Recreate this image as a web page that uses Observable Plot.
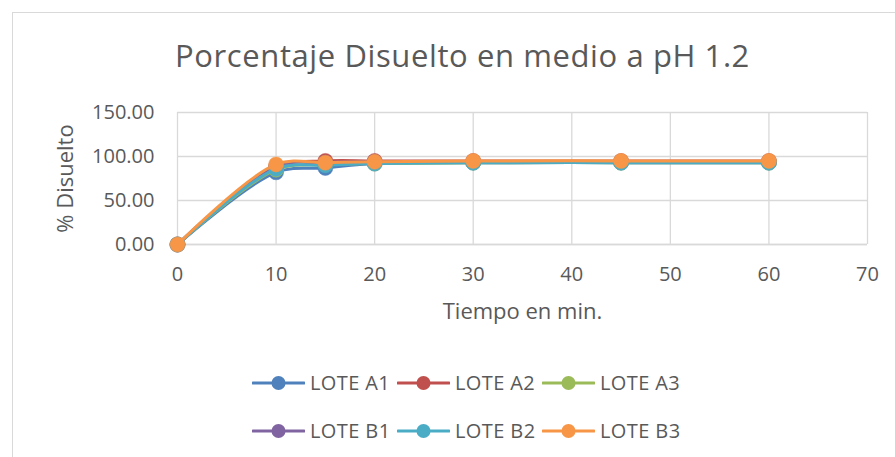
<!DOCTYPE html>
<html>
<head>
<meta charset="utf-8">
<script src="https://cdn.jsdelivr.net/npm/d3@7"></script>
<script src="https://cdn.jsdelivr.net/npm/@observablehq/plot@0.6"></script>
<style>
  html, body { margin: 0; padding: 0; background: #fff; }
  #wrap { position: relative; width: 895px; height: 457px; overflow: hidden; font-family: "Open Sans", sans-serif; }
  #frame { position: absolute; left: 12px; top: 12px; width: 1000px; height: 600px; border: 1px solid #d9d9d9; box-sizing: border-box; }
  #title { position: absolute; left: 0; width: 925px; top: 40px; line-height: 31px; text-align: center; font-size: 31px; letter-spacing: 0.6px; color: #595959; white-space: nowrap; }
  #chart { position: absolute; left: 0; top: 0; }
  .legrow { position: absolute; left: 252px; display: flex; align-items: center; font-size: 20px; letter-spacing: 0.4px; color: #595959; }
  .legitem { display: flex; align-items: center; width: 145px; }
  .legitem svg { margin-right: 5px; }
</style>
</head>
<body>
<div id="wrap">
  <div id="frame"></div>
  <div id="title">Porcentaje Disuelto en medio a pH 1.2</div>
  <div id="chart"></div>
  <div class="legrow" id="leg1" style="top:369px"></div>
  <div class="legrow" id="leg2" style="top:417px"></div>
</div>
<script>
const tiempos = [0, 10, 15, 20, 30, 45, 60];
const series = ["LOTE A1", "LOTE A2", "LOTE A3", "LOTE B1", "LOTE B2", "LOTE B3"];
const colores = ["#4F81BD", "#C0504D", "#9BBB59", "#8064A2", "#4BACC6", "#F79646"];
const loteA1 = [0, 82, 87, 92, 93, 93, 93];
const loteA2 = [0, 88, 95, 95, 95, 95, 95];
const loteA3 = [0, 85, 91, 92, 93, 93, 93];
const loteB1 = [0, 89, 93, 94, 94, 94, 94];
const loteB2 = [0, 86, 90, 92, 93, 93, 93];
const loteB3 = [0, 91, 93, 94, 95, 95, 95];
const yTicks = [0, 50, 100, 150];
const xTicks = [0, 10, 20, 30, 40, 50, 60, 70];

const valores = [loteA1, loteA2, loteA3, loteB1, loteB2, loteB3];
const data = [];
series.forEach((s, i) => tiempos.forEach((t, j) => data.push({serie: s, t, v: valores[i][j]})));

const marks = [
  Plot.gridY(yTicks, {stroke: "#d9d9d9", strokeOpacity: 1, strokeWidth: 1.3}),
  Plot.gridX(xTicks, {stroke: "#d9d9d9", strokeOpacity: 1, strokeWidth: 1.3}),
  Plot.ruleY([0], {stroke: "#d9d9d9", strokeWidth: 1.3}),
  Plot.axisY(yTicks, {tickFormat: d3.format(".2f"), tickSize: 0, tickPadding: 23, fontSize: 20, fill: "#595959", label: null}),
  Plot.axisX(xTicks, {tickSize: 0, tickPadding: 22, fontSize: 20, fill: "#595959", label: null}),
  Plot.text(["% Disuelto"], {frameAnchor: "left", textAnchor: "middle", dx: -112, rotate: -90, fontSize: 22, fill: "#595959", style: {letterSpacing: "1px"}}),
  Plot.text(["Tiempo en min."], {frameAnchor: "bottom", dy: 74, fontSize: 22, fill: "#595959"})
];
series.forEach((s, i) => {
  const d = data.filter(r => r.serie === s);
  marks.push(Plot.line(d, {x: "t", y: "v", stroke: colores[i], strokeWidth: 3, curve: "catmull-rom"}));
  marks.push(Plot.dot(d, {x: "t", y: "v", r: 7.5, fill: colores[i], stroke: colores[i], strokeWidth: 0.5}));
});

const chart = Plot.plot({
  width: 895,
  height: 340,
  marginLeft: 177,
  marginRight: 28,
  marginTop: 112,
  marginBottom: 96,
  style: {fontFamily: "Open Sans, sans-serif", background: "transparent", overflow: "visible"},
  x: {domain: [0, 70]},
  y: {domain: [0, 150]},
  marks
});
document.getElementById("chart").appendChild(chart);

function legendItem(name, color) {
  const div = document.createElement("div");
  div.className = "legitem";
  div.innerHTML = `<svg width="53" height="16"><line x1="1" y1="8" x2="52" y2="8" stroke="${color}" stroke-width="3" stroke-linecap="round"/><circle cx="26.5" cy="8" r="7" fill="${color}"/></svg><span>${name}</span>`;
  return div;
}
series.forEach((s, i) => {
  document.getElementById(i < 3 ? "leg1" : "leg2").appendChild(legendItem(s, colores[i]));
});
</script>
</body>
</html>
